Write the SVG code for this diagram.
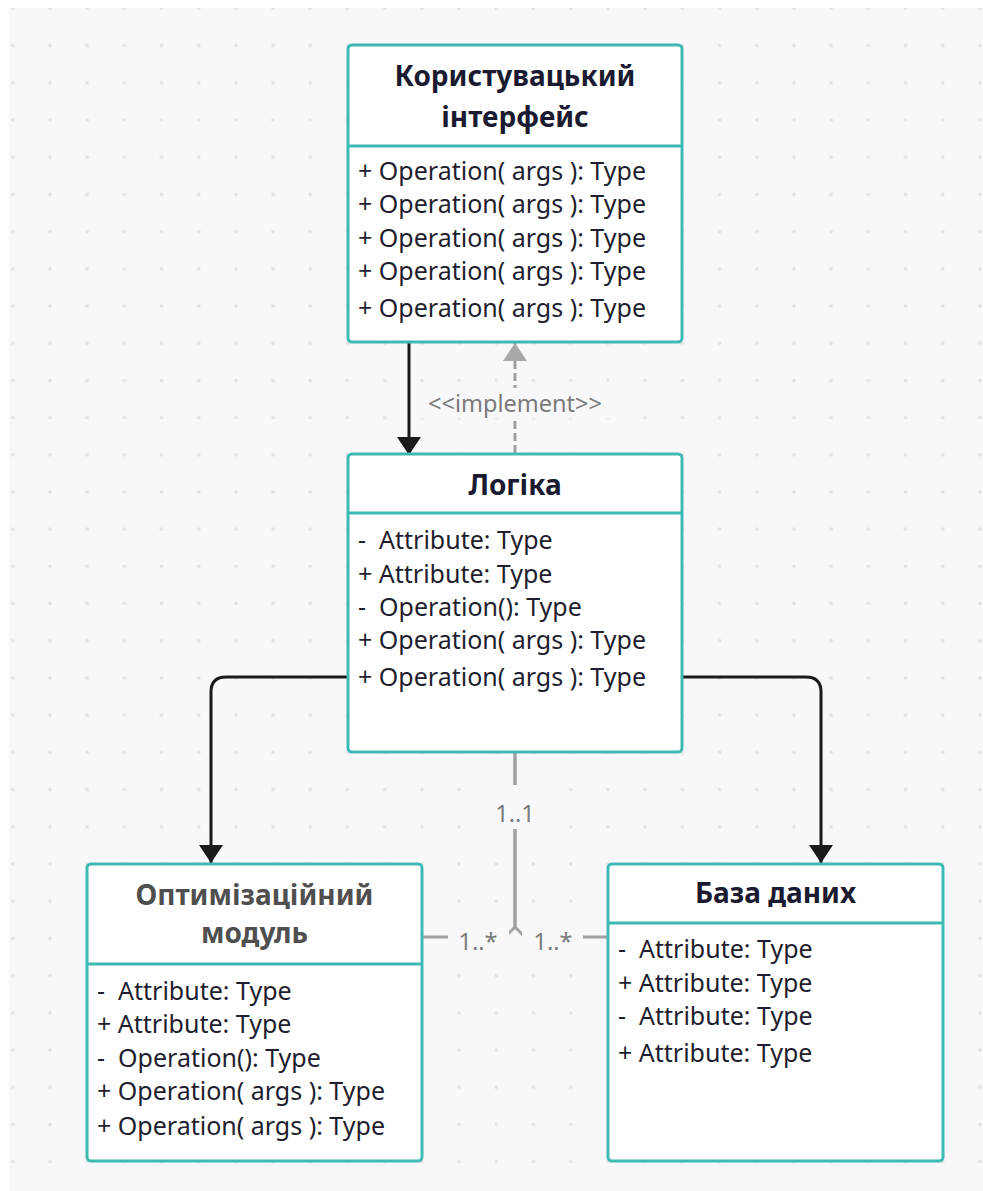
<svg xmlns="http://www.w3.org/2000/svg" width="983" height="1191" viewBox="0 0 983 1191">
<defs>
<pattern id="dots" x="12.7" y="8.3" width="37.2" height="37.2" patternUnits="userSpaceOnUse">
<circle cx="0" cy="0" r="1.8" fill="#e1e1e6"/>
<circle cx="37.2" cy="0" r="1.8" fill="#e1e1e6"/>
<circle cx="0" cy="37.2" r="1.8" fill="#e1e1e6"/>
<circle cx="37.2" cy="37.2" r="1.8" fill="#e1e1e6"/>
</pattern>
<marker id="arrBlack" viewBox="0 0 18 24" refX="18" refY="12" markerWidth="18" markerHeight="24" markerUnits="userSpaceOnUse" orient="auto">
<path d="M0,0 L18,12 L0,24 Z" fill="#1a1a1a"/>
</marker>
<marker id="arrGray" viewBox="0 0 18 24" refX="18" refY="12" markerWidth="18" markerHeight="24" markerUnits="userSpaceOnUse" orient="auto">
<path d="M0,0 L18,12 L0,24 Z" fill="#a8a8a8"/>
</marker>
</defs>
<style>
.box{fill:#ffffff;stroke:#3dbab4;stroke-width:3}
.div{stroke:#3dbab4;stroke-width:3}
.title{font-family:"Noto Sans","Open Sans",sans-serif;font-weight:bold;font-size:28px;fill:#1a1a30;text-anchor:middle}
.title2{fill:#4f4f4f}
.body{font-family:"Noto Sans","Open Sans",sans-serif;font-size:25px;fill:#1e1e2e}
.lbl{font-family:"Noto Sans","Open Sans",sans-serif;font-size:23.5px;fill:#7a7a7a;text-anchor:middle}
.bl{fill:none;stroke:#1a1a1a;stroke-width:3}
.gr{fill:none;stroke:#a0a0a0;stroke-width:3}
.lblbg{fill:#f8f8fa}
</style>
<rect x="0" y="0" width="983" height="1191" fill="#ffffff"/>
<rect x="9" y="8" width="974" height="1183" fill="#f8f8fa"/>
<rect x="9" y="8" width="974" height="1183" fill="url(#dots)"/>

<g id="connectors">
<path class="bl" d="M409,343 L409,455" marker-end="url(#arrBlack)"/>
<path class="gr" d="M515,453 L515,343" stroke-dasharray="8 4" marker-end="url(#arrGray)"/>
<rect class="lblbg" x="420" y="388" width="190" height="30"/>
<text class="lbl" x="515" y="412">&lt;&lt;implement&gt;&gt;</text>
<path class="bl" d="M348,677 L226,677 Q211,677 211,692 L211,863" marker-end="url(#arrBlack)"/>
<path class="bl" d="M682,677 L806,677 Q821,677 821,692 L821,863" marker-end="url(#arrBlack)"/>
<path class="gr" d="M515,752 L515,927 L505,937 L423,937"/>
<path class="gr" d="M515,752 L515,927 L525,937 L607,937"/>
<rect class="lblbg" x="494" y="785" width="42" height="44"/>
<text class="lbl" x="515" y="822">1..1</text>
<rect class="lblbg" x="448" y="931" width="61" height="22"/>
<text class="lbl" x="478" y="950">1..*</text>
<rect class="lblbg" x="522" y="931" width="61" height="22"/>
<text class="lbl" x="553" y="950">1..*</text>
</g>

<g id="ui">
<rect class="box" x="348" y="45" width="334" height="297" rx="4"/>
<line class="div" x1="348" y1="146" x2="682" y2="146"/>
<text class="title" x="515" y="86">Користувацький</text>
<text class="title" x="515" y="127">інтерфейс</text>
<text class="body" x="358" y="180">+ Operation( args ): Type</text>
<text class="body" x="358" y="213">+ Operation( args ): Type</text>
<text class="body" x="358" y="247">+ Operation( args ): Type</text>
<text class="body" x="358" y="280">+ Operation( args ): Type</text>
<text class="body" x="358" y="317">+ Operation( args ): Type</text>
</g>

<g id="logic">
<rect class="box" x="348" y="454" width="334" height="298" rx="4"/>
<line class="div" x1="348" y1="513" x2="682" y2="513"/>
<text class="title" x="515" y="495">Логіка</text>
<text class="body" x="358" y="549" xml:space="preserve">-  Attribute: Type</text>
<text class="body" x="358" y="583">+ Attribute: Type</text>
<text class="body" x="358" y="616" xml:space="preserve">-  Operation(): Type</text>
<text class="body" x="358" y="649">+ Operation( args ): Type</text>
<text class="body" x="358" y="686">+ Operation( args ): Type</text>
</g>

<g id="optimization">
<rect class="box" x="87" y="864" width="335" height="297" rx="4"/>
<line class="div" x1="87" y1="964" x2="422" y2="964"/>
<text class="title title2" x="254.5" y="905">Оптимізаційний</text>
<text class="title title2" x="254.5" y="943">модуль</text>
<text class="body" x="97" y="1000" xml:space="preserve">-  Attribute: Type</text>
<text class="body" x="97" y="1033">+ Attribute: Type</text>
<text class="body" x="97" y="1067" xml:space="preserve">-  Operation(): Type</text>
<text class="body" x="97" y="1100">+ Operation( args ): Type</text>
<text class="body" x="97" y="1135">+ Operation( args ): Type</text>
</g>

<g id="database">
<rect class="box" x="608" y="864" width="335" height="297" rx="4"/>
<line class="div" x1="608" y1="923" x2="943" y2="923"/>
<text class="title" x="775.5" y="903">База даних</text>
<text class="body" x="618" y="958" xml:space="preserve">-  Attribute: Type</text>
<text class="body" x="618" y="992">+ Attribute: Type</text>
<text class="body" x="618" y="1025" xml:space="preserve">-  Attribute: Type</text>
<text class="body" x="618" y="1062">+ Attribute: Type</text>
</g>
</svg>
